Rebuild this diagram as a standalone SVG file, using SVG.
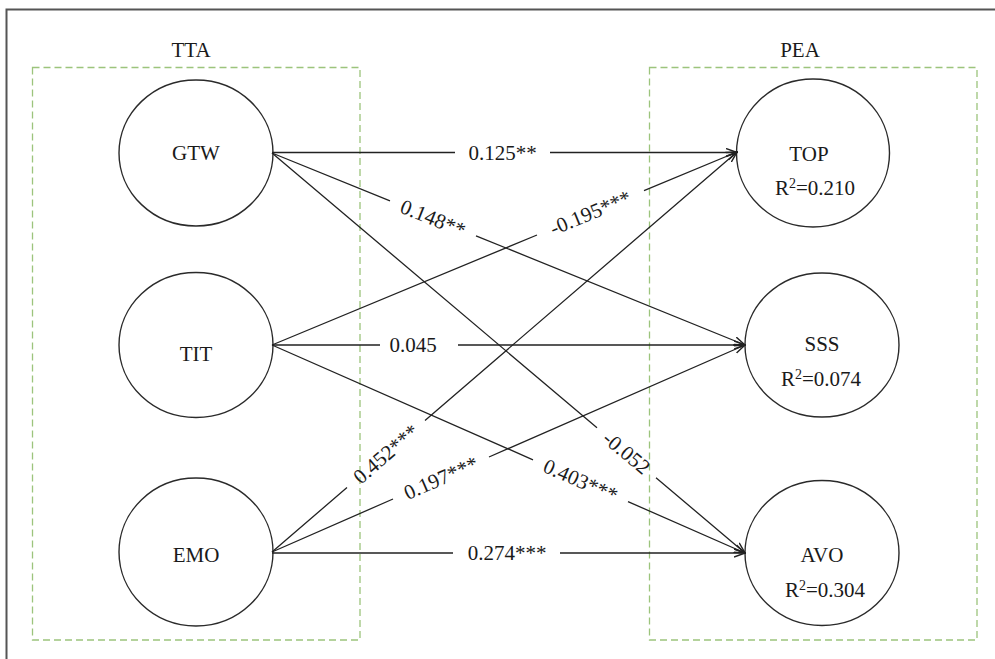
<svg xmlns="http://www.w3.org/2000/svg" width="995" height="659" viewBox="0 0 995 659">
<style>
text{font-family:"Liberation Serif","Times New Roman",serif;font-size:21px;fill:#1a1a1a}
.n{fill:none;stroke:#2a2a2a;stroke-width:1.4}
.box{fill:none;stroke:#9cc47c;stroke-width:1.3;stroke-dasharray:7 4}
.c{fill:none;stroke:#222;stroke-width:1.3;marker-end:url(#arr)}
.m{text-anchor:middle}
</style>
<defs>
<marker id="arr" viewBox="0 0 12 10" refX="11" refY="5" markerWidth="12" markerHeight="10" orient="auto" markerUnits="userSpaceOnUse">
<path d="M0,1 L11,5 L0,9" fill="none" stroke="#222" stroke-width="1.4"/>
</marker>
</defs>
<rect width="995" height="659" fill="#fff"/>
<path d="M6.5,659 V9.5 H995" fill="none" stroke="#555" stroke-width="2"/>
<g id="group-TTA">
<rect class="box" x="32.5" y="67.5" width="327.5" height="572.5"/>
<text class="m" x="191" y="57">TTA</text>
</g>
<g id="group-PEA">
<rect class="box" x="649.5" y="67.5" width="327.5" height="572.5"/>
<text class="m" x="800" y="57">PEA</text>
</g>
<g id="node-GTW"><ellipse class="n" cx="196" cy="153" rx="77" ry="73"/><text class="m" x="196" y="160">GTW</text></g>
<g id="node-TIT"><ellipse class="n" cx="196" cy="345" rx="77" ry="72.5"/><text class="m" x="196" y="361">TIT</text></g>
<g id="node-EMO"><ellipse class="n" cx="196" cy="552" rx="77" ry="74"/><text class="m" x="196" y="562">EMO</text></g>
<g id="node-TOP"><ellipse class="n" cx="813" cy="153" rx="76.5" ry="74"/><text class="m" x="809" y="161">TOP</text><text class="m" x="815" y="195">R<tspan font-size="14" dy="-7">2</tspan><tspan dy="7">=0.210</tspan></text></g>
<g id="node-SSS"><ellipse class="n" cx="822" cy="345" rx="77" ry="72"/><text class="m" x="822" y="351">SSS</text><text class="m" x="821" y="386">R<tspan font-size="14" dy="-7">2</tspan><tspan dy="7">=0.074</tspan></text></g>
<g id="node-AVO"><ellipse class="n" cx="822" cy="553" rx="77" ry="72.5"/><text class="m" x="822" y="562">AVO</text><text class="m" x="825" y="597">R<tspan font-size="14" dy="-7">2</tspan><tspan dy="7">=0.304</tspan></text></g>
<g id="connectors">
<path class="c" d="M272,152.5 H455 M550,152.5 H737"/>
<path class="c" d="M272,153 L390,200.9 M476,235.8 L745,345"/>
<path class="c" d="M272,153 L597,427.8 M656,477.7 L745,553"/>
<path class="c" d="M272,345 L537,235 M644,190.6 L737,152"/>
<path class="c" d="M272,345 H380 M458,345 H745"/>
<path class="c" d="M272,345 L533,459.8 M628,501.6 L745,553"/>
<path class="c" d="M272,552 L347,487.5 M425,420.4 L737,152"/>
<path class="c" d="M272,552 L393,499 M489,457 L745,345"/>
<path class="c" d="M272,553 H453 M560,553 H745"/>
<text class="m" x="502.5" y="159.5">0.125**</text>
<text class="m" transform="translate(433,218.3) rotate(22.1)" y="7">0.148**</text>
<text class="m" transform="translate(626.5,452.8) rotate(40.2)" y="7">-0.052</text>
<text class="m" transform="translate(590.5,212.8) rotate(-22.5)" y="7">-0.195***</text>
<text class="m" x="413" y="352">0.045</text>
<text class="m" transform="translate(580.5,480.6) rotate(23.7)" y="7">0.403***</text>
<text class="m" transform="translate(386,454) rotate(-40.7)" y="7">0.452***</text>
<text class="m" transform="translate(441,478) rotate(-23.6)" y="7">0.197***</text>
<text class="m" x="507" y="560">0.274***</text>
</g>
</svg>
